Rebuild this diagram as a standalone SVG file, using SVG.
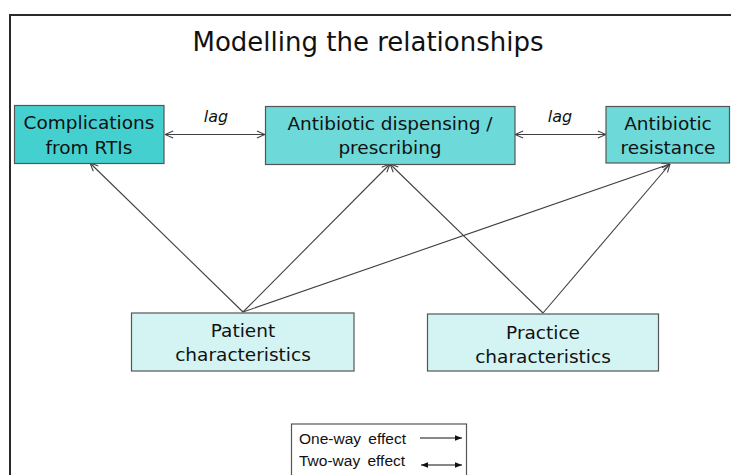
<svg xmlns="http://www.w3.org/2000/svg" width="731" height="475" viewBox="0 0 731 475">
<style>
.box{stroke:#555;stroke-width:1.2}
.t{font-family:"DejaVu Sans",Verdana,sans-serif;font-size:18.5px;fill:#111;text-anchor:middle}
.lag{font-family:"DejaVu Sans",Verdana,sans-serif;font-size:16px;font-style:italic;fill:#111;text-anchor:middle}
.c{stroke:#404040;stroke-width:1.1;fill:none}
.lg{font-family:"Liberation Sans",Arial,sans-serif;font-size:15.5px;fill:#111;word-spacing:3px}
</style>
<defs>
<marker id="open" viewBox="0 0 10 10" refX="10" refY="5" markerWidth="9" markerHeight="9" markerUnits="userSpaceOnUse" orient="auto-start-reverse">
<path d="M1,1 L10,5 L1,9" fill="none" stroke="#404040" stroke-width="1.2"/>
</marker>
<marker id="solid" viewBox="0 0 10 10" refX="10" refY="5" markerWidth="7" markerHeight="7" markerUnits="userSpaceOnUse" orient="auto-start-reverse">
<path d="M0,1 L10,5 L0,9 Z" fill="#111"/>
</marker>
</defs>
<rect width="731" height="475" fill="#fff"/>
<path d="M10,476 V15 H732" fill="none" stroke="#2a2a2a" stroke-width="2"/>
<text x="368" y="51" font-family="DejaVu Sans,Verdana,sans-serif" font-size="26" text-anchor="middle" fill="#111">Modelling the relationships</text>

<g id="connectors">
<line class="c" x1="243" y1="312" x2="90" y2="163" marker-end="url(#open)"/>
<line class="c" x1="243" y1="312" x2="390" y2="164" marker-end="url(#open)"/>
<line class="c" x1="243" y1="312" x2="670" y2="164" marker-end="url(#open)"/>
<line class="c" x1="543" y1="313" x2="390" y2="164" marker-end="url(#open)"/>
<line class="c" x1="543" y1="313" x2="670" y2="164" marker-end="url(#open)"/>
<line class="c" x1="165" y1="134.5" x2="265" y2="134.5" marker-start="url(#open)" marker-end="url(#open)"/>
<line class="c" x1="515" y1="134.5" x2="606" y2="134.5" marker-start="url(#open)" marker-end="url(#open)"/>
<text class="lag" x="216" y="122">lag</text>
<text class="lag" x="560" y="122">lag</text>
</g>

<g id="complications">
<rect class="box" x="14.5" y="105.5" width="149.5" height="58" fill="#45D0D0"/>
<text class="t" x="89" y="129">Complications</text>
<text class="t" x="89" y="154">from RTIs</text>
</g>
<g id="dispensing">
<rect class="box" x="265.5" y="106.5" width="249.5" height="58" fill="#6DD9D9"/>
<text class="t" x="390" y="130">Antibiotic dispensing /</text>
<text class="t" x="390" y="154">prescribing</text>
</g>
<g id="resistance">
<rect class="box" x="606" y="106.5" width="123.5" height="56.5" fill="#6DD9D9"/>
<text class="t" x="668" y="130">Antibiotic</text>
<text class="t" x="668" y="154">resistance</text>
</g>
<g id="patient">
<rect class="box" x="131.5" y="313" width="222.5" height="58" fill="#D4F4F4"/>
<text class="t" x="243" y="337">Patient</text>
<text class="t" x="243" y="361">characteristics</text>
</g>
<g id="practice">
<rect class="box" x="427.5" y="314" width="231" height="57" fill="#D4F4F4"/>
<text class="t" x="543" y="339">Practice</text>
<text class="t" x="543" y="363">characteristics</text>
</g>

<g id="legend">
<rect x="291.5" y="424" width="175" height="60" fill="#fff" stroke="#555" stroke-width="1.2"/>
<text class="lg" x="299" y="444">One-way effect</text>
<text class="lg" x="299" y="466">Two-way effect</text>
<line x1="420" y1="438" x2="462" y2="438" stroke="#111" stroke-width="1.2" marker-end="url(#solid)"/>
<line x1="421" y1="465" x2="462" y2="465" stroke="#111" stroke-width="1.2" marker-start="url(#solid)" marker-end="url(#solid)"/>
</g>
</svg>
